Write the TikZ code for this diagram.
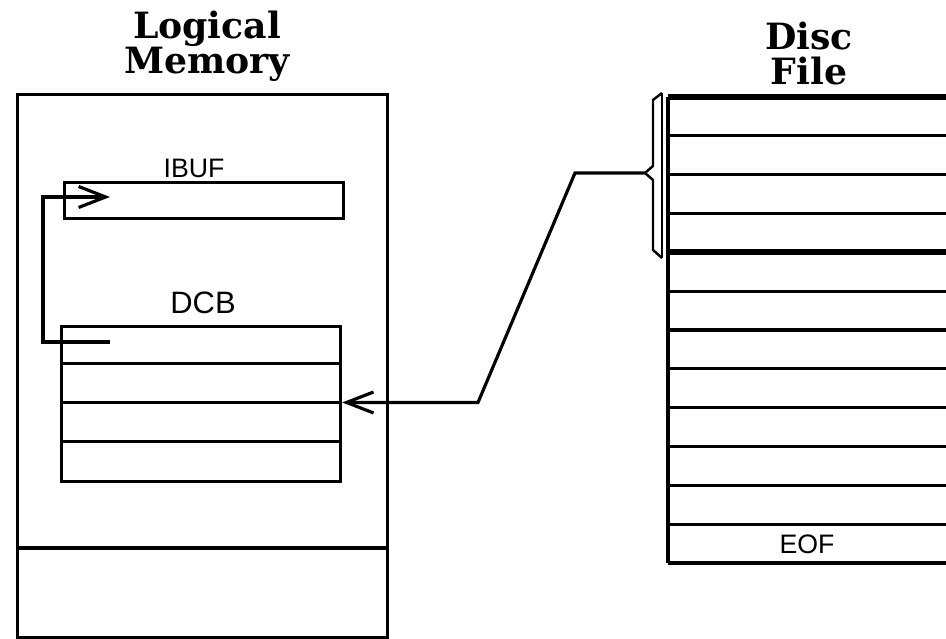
\documentclass[tikz,border=0pt]{standalone}
\usepackage{fontspec}
\newfontfamily\headfont{DejaVu Serif}
\newfontfamily\plotfont{Liberation Sans}
\newcommand\headstyle{\headfont\bfseries\fontsize{10.3}{10}\selectfont\lineskiplimit=-10pt\relax}
\usetikzlibrary{arrows.meta,calc}

\begin{document}
\begin{tikzpicture}[
    line width=0.9pt,
    ptr/.style={-{Straight Barb[length=2.7mm, width=2.1mm, line width=0.9pt]}},
    heading/.style={font=\headstyle, align=center},
    tag/.style={font=\plotfont\fontsize{7.6}{8}\selectfont},
    cell/.style={draw, inner sep=0pt, anchor=north west}
]
    \useasboundingbox (0,0) rectangle (9.46,6.39);

    % === Logical memory ===
    \node[heading] (memtitle) at (2.07,5.93) {Logical\\Memory};
    \node[cell, minimum width=3.70cm, minimum height=5.43cm] (mem) at (0.16,5.46) {};
    \coordinate (split) at (0,0.91);
    \draw (mem.west |- split) -- (mem.east |- split);

    % IBUF buffer
    \node[cell, minimum width=2.79cm, minimum height=0.36cm] (ibuf) at (0.63,4.58) {};
    \node[tag] (ibuftag) at (1.94,4.71) {IBUF};

    % DCB, four words
    \node[cell, minimum width=2.79cm, minimum height=1.55cm] (dcb) at (0.60,3.14) {};
    \foreach \r in {1,2,3}
        \draw ($(dcb.north west)+(0,-0.3875*\r)$) -- ($(dcb.north east)+(0,-0.3875*\r)$);
    \node[tag, font=\plotfont\fontsize{8.8}{9}\selectfont] (dcbtag) at (2.03,3.36) {DCB};

    % first DCB word points at IBUF
    \coordinate (dcbptr) at (1.10,2.97);
    \coordinate (ibufin) at (1.10,4.42);
    \draw[ptr] (dcbptr) -- ++(-0.67,0) |- (ibufin);

    % === Disc file ===
    \node[heading] (disctitle) at (8.09,5.855) {Disc\\File};
    \coordinate (disc) at (6.68,5.42);
    \foreach \r in {1,2,3,5,6,7,8,9,10,11,12}
        \draw ($(disc)+(0,-0.3883*\r)$) -- ++(2.78,0);
    \draw[line width=1.6pt] (disc) -- ++(2.78,0);
    \draw[line width=1.6pt] ($(disc)+(0,-1.553)$) -- ++(2.78,0);
    \draw (disc) -- ++(0,-4.66);
    \node[tag] (eof) at (8.07,0.95) {EOF};

    % bracket over the first four records
    \draw[line width=0.7pt] (6.62,5.46) -- (6.62,3.81);
    \draw[line width=0.7pt] (6.62,5.46) -- (6.53,5.39) -- (6.53,4.73) -- (6.45,4.66) coordinate (grab)
        -- (6.53,4.59) -- (6.53,3.89) -- (6.62,3.81);

    % records read into the DCB
    \coordinate (dcbin) at ($(dcb.north east)+(0,-0.775)$);
    \coordinate (bend) at (4.78,2.365);
    \draw[ptr] (grab) -- ++(-0.70,0) -- (bend) -- (dcbin);
\end{tikzpicture}
\end{document}
